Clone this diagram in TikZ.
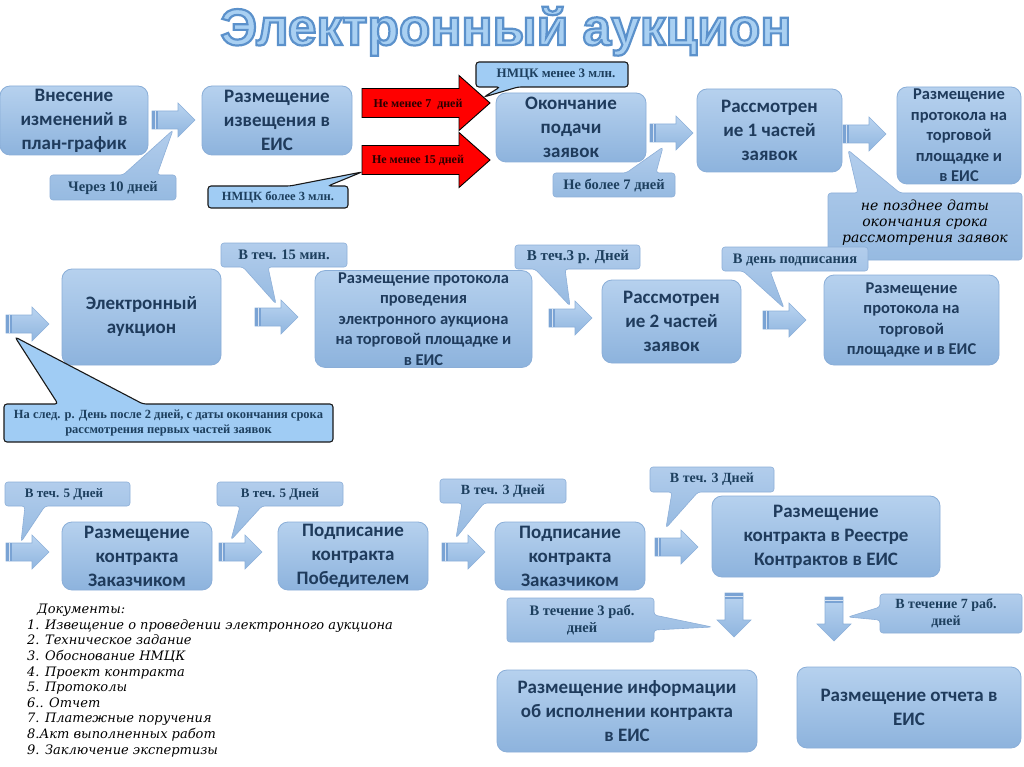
\documentclass[tikz,border=0pt]{standalone}
\usepackage{fontspec}
\setmainfont{Carlito}
\newfontfamily\boxfont{Carlito}
\newfontfamily\calfont{Liberation Serif}
\newfontfamily\scriptf{DejaVu Serif}
\newfontfamily\titlef{Liberation Sans}
\definecolor{boxtop}{HTML}{B6D1EE}
\definecolor{boxbot}{HTML}{8DB3DD}
\definecolor{boxedge}{HTML}{8AAED8}
\definecolor{boxtext}{HTML}{1F3B5C}
\definecolor{caltop}{HTML}{B2CDEC}
\definecolor{calbot}{HTML}{96BAE1}
\definecolor{caledge}{HTML}{8DAFD8}
\definecolor{caltext}{HTML}{1D3F5E}
\definecolor{darkcal}{HTML}{A0CCF4}
\definecolor{arrtop}{HTML}{BAD4F0}
\definecolor{arrbot}{HTML}{8FB5DF}
\definecolor{arredge}{HTML}{8CB0DA}
\definecolor{stripec}{HTML}{7AA3D4}
\definecolor{redarr}{HTML}{FF0000}
\definecolor{redtext}{HTML}{2A0000}
\definecolor{titlefill}{HTML}{A9D0F2}
% outline colour of the title: 5B91CB = 0.357 0.569 0.796
\newcommand\outlinetext[1]{%
  \special{pdf:literal direct 2 Tr 2.2 w 0.357 0.569 0.796 RG}#1%
  \special{pdf:literal direct 0 Tr}}
\tikzset{
  box/.style={rounded corners=10pt, draw=boxedge, line width=0.8pt,
    top color=boxtop, bottom color=boxbot, text=boxtext, align=center,
    inner sep=2pt, font=\boxfont\bfseries\fontsize{19}{24}\selectfont},
  boxs/.style={box, font=\boxfont\bfseries\fontsize{16.5}{20.5}\selectfont},
  cal/.style={rounded corners=3pt, draw=caledge, line width=0.6pt,
    top color=caltop, bottom color=calbot},
  dcal/.style={rounded corners=3pt, draw=black!90, line width=1.1pt, fill=darkcal},
  caltxt/.style={font=\calfont\bfseries\fontsize{14}{16.5}\selectfont,
    text=caltext, align=center, inner sep=0pt},
  calfs/.style={font=\calfont\bfseries\fontsize{#1}{\fpeval{#1*1.2}}\selectfont},
  scripttxt/.style={font=\scriptf\itshape\fontsize{13}{15.6}\selectfont,
    text=black, inner sep=0pt},
  barr/.style={draw=arredge, line width=0.6pt, top color=arrtop, bottom color=arrbot},
  redshape/.style={fill=redarr, draw=black, line width=0.9pt},
  redtxt/.style={font=\calfont\bfseries\fontsize{12}{14}\selectfont, text=redtext, inner sep=0pt},
}
% right block arrow: name, left x, centre y
\newcommand\rblk[3]{%
  \coordinate (#1) at (#2,#3);
  \draw[barr] (#1) ++(0,-9) -- ++(26,0) -- ++(0,-8) -- ++(17,17) -- ++(-17,17)
     -- ++(0,-8) -- ++(-26,0) -- cycle;
  \fill[stripec] ([shift={(0.4,-8.6)}]#1) rectangle ++(6,17.2);
  \draw[white!70!stripec, line width=0.6pt] ([shift={(3.2,-8.6)}]#1) -- ++(0,17.2);
}
% down block arrow: name, centre x, top y
\newcommand\dblk[3]{%
  \coordinate (#1) at (#2,#3);
  \draw[barr] (#1) ++(-9,0) -- ++(18,0) -- ++(0,27) -- ++(8,0) -- ++(-17,17)
     -- ++(-17,-17) -- ++(8,0) -- cycle;
  \fill[stripec] ([shift={(-8.6,0.4)}]#1) rectangle ++(17.2,6);
  \draw[white!70!stripec, line width=0.6pt] ([shift={(-8.6,3.2)}]#1) -- ++(17.2,0);
}
\begin{document}
\begin{tikzpicture}[x=1pt, y=-1pt]
\fill[white] (0,0) rectangle (1024,767);
\useasboundingbox (0,0) rectangle (1024,767);

% ---------- title ----------
\node[font=\titlef\bfseries\fontsize{51.5}{54}\selectfont, text=titlefill, anchor=base, inner sep=0pt]
  (title) at (506,45) {\outlinetext{Электронный аукцион}};

% ---------- boxes ----------
\node[box, minimum width=148pt, minimum height=69pt] (b1) at (74,120.5) {Внесение\\изменений в\\план-график};
\node[box, minimum width=150pt, minimum height=69pt] (b2) at (277,120.5) {Размещение\\извещения в\\ЕИС};
\node[box, minimum width=150pt, minimum height=69pt] (b3) at (571,127.5) {Окончание\\подачи\\заявок};
\node[box, minimum width=145pt, minimum height=83pt] (b4) at (769.5,130.5) {Рассмотрен\\ие 1 частей\\заявок};
\node[boxs, minimum width=124pt, minimum height=97pt] (b5) at (959,135.5) {Размещение\\протокола на\\торговой\\площадке и\\в ЕИС};

\node[box, minimum width=159pt, minimum height=96pt] (b6) at (141.5,317) {Электронный\\аукцион};
\node[boxs, minimum width=217pt, minimum height=96pt] (b7) at (423.5,319) {Размещение протокола\\проведения\\электронного аукциона\\на торговой площадке и\\в ЕИС};
\node[box, minimum width=139pt, minimum height=83pt] (b8) at (671.5,321.5) {Рассмотрен\\ие 2 частей\\заявок};
\node[boxs, minimum width=175pt, minimum height=90pt] (b9) at (911.5,320) {Размещение\\протокола на\\торговой\\площадке и в ЕИС};

\node[box, minimum width=150pt, minimum height=68pt] (b10) at (137,556) {Размещение\\контракта\\Заказчиком};
\node[box, minimum width=150pt, minimum height=68pt] (b11) at (353,556) {Подписание\\контракта\\Победителем};
\node[box, minimum width=150pt, minimum height=68pt] (b12) at (570,556) {Подписание\\контракта\\Заказчиком};
\node[box, minimum width=228pt, minimum height=81pt] (b13) at (826,536.5) {Размещение\\контракта в Реестре\\Контрактов в ЕИС};
\node[box, minimum width=260pt, minimum height=82pt] (b14) at (627,711) {Размещение информации\\об исполнении контракта\\в ЕИС};
\node[box, minimum width=224pt, minimum height=81pt] (b15) at (909,707.5) {Размещение отчета в\\ЕИС};

% ---------- block arrows ----------
\rblk{a1}{152}{120}
\rblk{a2}{650}{133}
\rblk{a3}{843}{134}
\rblk{a4}{6}{324}
\rblk{a5}{255}{317}
\rblk{a6}{549}{318}
\rblk{a7}{763}{320}
\rblk{a8}{6}{552}
\rblk{a9}{219}{552}
\rblk{a10}{442}{552}
\rblk{a11}{655}{547}
\dblk{d1}{734}{593}
\dblk{d2}{834}{597}

% ---------- red arrows ----------
\draw[redshape] (362,88.5) -- (459,88.5) -- (459,75.5) -- (490,103) -- (459,130.5) -- (459,117.5) -- (362,117.5) -- cycle;
\node[redtxt] (r1t) at (418,104) {Не менее 7\ \ дней};
\draw[redshape] (362,145.5) -- (459,145.5) -- (459,132.5) -- (490,160) -- (459,187.5) -- (459,174.5) -- (362,174.5) -- cycle;
\node[redtxt] (r2t) at (418,160) {Не менее 15 дней};

% ---------- callouts ----------
\draw[cal] (50,175) -- (123,175) -- (173,130) -- (157,175) -- (176,175) -- (176,200) -- (50,200) -- cycle;
\node[caltxt, calfs=14.5] (c1) at (113,188) {Через 10 дней};

\draw[dcal] (208,186) -- (290,186) -- (362,172) -- (328,186) -- (348,186) -- (348,208) -- (208,208) -- cycle;
\node[caltxt, calfs=12.5] (c2) at (278,197.5) {НМЦК более 3 млн.};

\draw[dcal] (476,62) -- (628,62) -- (628,87) -- (518,87) -- (484,97) -- (500,87) -- (476,87) -- cycle;
\node[caltxt, calfs=13] (c3) at (556,75) {НМЦК менее 3 млн.};

\draw[cal] (553,173) -- (626,173) -- (663,147) -- (656,173) -- (675,173) -- (675,197) -- (553,197) -- cycle;
\node[caltxt, calfs=14.5] (c4) at (614,185.5) {Не более 7 дней};

\draw[cal] (828,193) -- (858,193) -- (848,150) -- (900,193) -- (1022,193) -- (1022,260) -- (828,260) -- cycle;
\node[scripttxt, font=\scriptf\itshape\fontsize{14}{16}\selectfont, align=center] (c5) at (925,223) {не позднее даты\\окончания срока\\рассмотрения заявок};

\draw[cal] (221,243) -- (347,243) -- (347,267) -- (268,267) -- (276,304) -- (243,267) -- (221,267) -- cycle;
\node[caltxt, calfs=14.5] (c6) at (284,255) {В теч. 15 мин.};

\draw[dcal] (4,404) -- (58,404) -- (15,337) -- (143,404) -- (333,404) -- (333,442) -- (4,442) -- cycle;
\node[caltxt, calfs=12.5] (c7) at (168.5,423) {На след. р. День после 2 дней, с даты окончания срока\\рассмотрения первых частей заявок};

\draw[cal] (515,245) -- (640,245) -- (640,269) -- (565,269) -- (570,306) -- (535,269) -- (515,269) -- cycle;
\node[caltxt, calfs=15] (c8) at (578,257) {В теч.3 р. Дней};

\draw[cal] (722,247) -- (868,247) -- (868,271) -- (770,271) -- (784,308) -- (743,271) -- (722,271) -- cycle;
\node[caltxt, calfs=14.5] (c9) at (795,260) {В день подписания};

\draw[cal] (5,482) -- (130,482) -- (130,506) -- (45,506) -- (21,542) -- (25,506) -- (5,506) -- cycle;
\node[caltxt, calfs=13] (c10) at (64,494) {В теч. 5 Дней};

\draw[cal] (217,482) -- (343,482) -- (343,506) -- (262,506) -- (231,540) -- (240,506) -- (217,506) -- cycle;
\node[caltxt, calfs=13] (c11) at (280,494) {В теч. 5 Дней};

\draw[cal] (440,479) -- (566,479) -- (566,503) -- (484,503) -- (456,538) -- (462,503) -- (440,503) -- cycle;
\node[caltxt, calfs=14] (c12) at (503,491) {В теч. 3 Дней};

\draw[cal] (650,467) -- (774,467) -- (774,492) -- (698,492) -- (666,528) -- (672,492) -- (650,492) -- cycle;
\node[caltxt, calfs=14] (c13) at (712,479.5) {В теч. 3 Дней};

\draw[cal] (507,598) -- (654,598) -- (654,615) -- (712,627) -- (654,630) -- (654,642) -- (507,642) -- cycle;
\node[caltxt, calfs=14.5] (c14) at (582,620) {В течение 3 раб.\\дней};

\draw[cal] (880,594) -- (1022,594) -- (1022,633) -- (880,633) -- (880,620) -- (848,617) -- (880,607) -- cycle;
\node[caltxt, calfs=14] (c15) at (946,613.5) {В течение 7 раб.\\дней};

% ---------- documents list ----------
\node[scripttxt, anchor=north west, align=left] (docs) at (27,604) {%
\hspace*{10pt}Документы:\\
1. Извещение о проведении электронного аукциона\\
2. Техническое задание\\
3. Обоснование НМЦК\\
4. Проект контракта\\
5. Протоколы\\
6.. Отчет\\
7. Платежные поручения\\
8.Акт выполненных работ\\
9. Заключение экспертизы};
\end{tikzpicture}
\end{document}
